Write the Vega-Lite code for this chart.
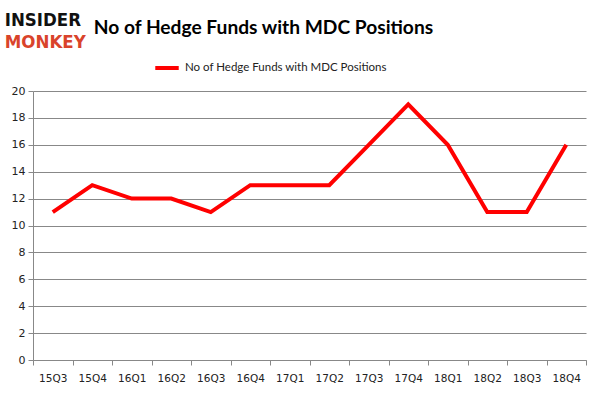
{
  "$schema": "https://vega.github.io/schema/vega-lite/v6.json",
  "autosize": {"type": "none"},
  "width": 553,
  "height": 269,
  "padding": {"left": 33, "top": 91, "right": 15, "bottom": 36},
  "background": "white",
  "title": {
    "text": "No of Hedge Funds with MDC Positions",
    "anchor": "start",
    "dx": 89,
    "font": "Lato",
    "fontSize": 19.2,
    "fontWeight": "bold",
    "color": "#000000",
    "offset": -27
  },
  "config": {
    "view": {"stroke": null},
    "font": "Lato",
    "axisX": {
      "labelAngle": 0,
      "tickBand": "extent",
      "grid": false,
      "domainColor": "#888888",
      "tickColor": "#888888",
      "tickSize": 5,
      "labelPadding": 8,
      "labelFont": "DejaVu Sans",
      "labelFontSize": 10.5,
      "labelColor": "#222222"
    },
    "axisY": {
      "labelOverlap": false,
      "gridColor": "#888888",
      "gridWidth": 1,
      "domainColor": "#888888",
      "tickColor": "#888888",
      "tickSize": 5,
      "labelPadding": 3,
      "labelFont": "DejaVu Sans",
      "labelFontSize": 11,
      "labelColor": "#222222"
    }
  },
  "layer": [
    {
      "data": {
        "values": [
          {"quarter": "15Q3", "funds": 11, "series": "No of Hedge Funds with MDC Positions"},
          {"quarter": "15Q4", "funds": 13, "series": "No of Hedge Funds with MDC Positions"},
          {"quarter": "16Q1", "funds": 12, "series": "No of Hedge Funds with MDC Positions"},
          {"quarter": "16Q2", "funds": 12, "series": "No of Hedge Funds with MDC Positions"},
          {"quarter": "16Q3", "funds": 11, "series": "No of Hedge Funds with MDC Positions"},
          {"quarter": "16Q4", "funds": 13, "series": "No of Hedge Funds with MDC Positions"},
          {"quarter": "17Q1", "funds": 13, "series": "No of Hedge Funds with MDC Positions"},
          {"quarter": "17Q2", "funds": 13, "series": "No of Hedge Funds with MDC Positions"},
          {"quarter": "17Q3", "funds": 16, "series": "No of Hedge Funds with MDC Positions"},
          {"quarter": "17Q4", "funds": 19, "series": "No of Hedge Funds with MDC Positions"},
          {"quarter": "18Q1", "funds": 16, "series": "No of Hedge Funds with MDC Positions"},
          {"quarter": "18Q2", "funds": 11, "series": "No of Hedge Funds with MDC Positions"},
          {"quarter": "18Q3", "funds": 11, "series": "No of Hedge Funds with MDC Positions"},
          {"quarter": "18Q4", "funds": 16, "series": "No of Hedge Funds with MDC Positions"}
        ]
      },
      "mark": {"type": "line", "strokeWidth": 4, "strokeJoin": "miter", "clip": false},
      "encoding": {
        "x": {
          "field": "quarter",
          "type": "ordinal",
          "sort": null,
          "scale": {"type": "band", "paddingInner": 0, "paddingOuter": 0},
          "axis": {"title": null}
        },
        "y": {
          "field": "funds",
          "type": "quantitative",
          "scale": {"domain": [0, 20]},
          "axis": {"title": null, "values": [0, 2, 4, 6, 8, 10, 12, 14, 16, 18, 20]}
        },
        "color": {
          "field": "series",
          "type": "nominal",
          "scale": {"range": ["#ff0000"]},
          "legend": {
            "title": null,
            "orient": "none",
            "legendX": 120,
            "legendY": -37,
            "symbolType": "stroke",
            "symbolSize": 550,
            "symbolStrokeWidth": 4,
            "labelLimit": 400,
            "labelOffset": 4,
            "labelFont": "Lato",
            "labelFontSize": 11.5,
            "labelColor": "#222222"
          }
        }
      }
    },
    {
      "data": {"values": [{"word": "INSIDER", "kind": "a", "lvl": 24.8}, {"word": "MONKEY", "kind": "b", "lvl": 23.2}]},
      "mark": {"type": "text", "align": "left", "baseline": "alphabetic", "dx": -48, "font": "DejaVu Sans Condensed", "fontWeight": "bold", "fontSize": 18.5, "clip": false},
      "encoding": {
        "x": {"datum": "15Q3", "axis": {"title": null}},
        "y": {"field": "lvl", "type": "quantitative", "axis": {"title": null, "values": [0, 2, 4, 6, 8, 10, 12, 14, 16, 18, 20]}},
        "text": {"field": "word"},
        "color": {"field": "kind", "type": "nominal", "scale": {"domain": ["a", "b"], "range": ["#111111", "#d9432b"]}, "legend": null}
      }
    }
  ],
  "resolve": {"scale": {"color": "independent"}}
}
